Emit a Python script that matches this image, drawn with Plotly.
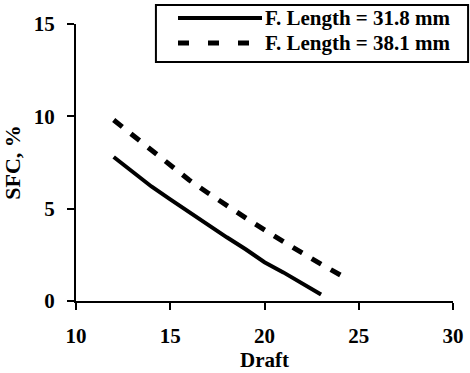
import plotly.graph_objects as go

# ---- data ----
series_names = ["F. Length = 31.8 mm", "F. Length = 38.1 mm"]
draft_318 = [12, 13, 14, 15, 16, 17, 18, 19, 20, 21, 22, 23]
sfc_318 = [7.8, 7.0, 6.2, 5.5, 4.8, 4.1, 3.45, 2.8, 2.1, 1.55, 0.95, 0.35]
draft_381 = [12, 13, 14, 15, 16, 17, 18, 19, 20, 21, 22, 23, 24.3]
sfc_381 = [9.8, 9.0, 8.15, 7.35, 6.55, 5.85, 5.15, 4.5, 3.85, 3.2, 2.6, 2.0, 1.25]
x_ticks = [10, 15, 20, 25, 30]
y_ticks = [0, 5, 10, 15]

FONT = "Liberation Serif"
FS = 21

fig = go.Figure()
fig.add_trace(go.Scatter(x=draft_318, y=sfc_318, mode="lines", name=series_names[0],
                         line=dict(color="black", width=4), showlegend=False))
fig.add_trace(go.Scatter(x=draft_381, y=sfc_381, mode="lines", name=series_names[1],
                         line=dict(color="black", width=5, dash="11px,11px"), showlegend=False))

# manual legend (box, line samples, labels)
lx0, lx1 = 0.212, 1.04
ly0, ly1 = 0.863, 1.069
fig.add_shape(type="rect", xref="paper", yref="paper", x0=lx0, x1=lx1, y0=ly0, y1=ly1,
              line=dict(color="black", width=2), fillcolor="white", layer="above")
row_y = [(301 - 18) / 277, (301 - 43) / 277]
sx0, sx1 = (178 - 76) / 377, (262 - 76) / 377
fig.add_shape(type="line", xref="paper", yref="paper", x0=sx0, x1=sx1, y0=row_y[0], y1=row_y[0],
              line=dict(color="black", width=4), layer="above")
fig.add_shape(type="line", xref="paper", yref="paper", x0=sx0, x1=sx1, y0=row_y[1], y1=row_y[1],
              line=dict(color="black", width=5, dash="11px,19px"), layer="above")
for name, yy in zip(series_names, row_y):
    fig.add_annotation(xref="paper", yref="paper", x=(263 - 76) / 377, y=yy, text="<b>" + name + "</b>",
                       showarrow=False, xanchor="left", yanchor="middle",
                       font=dict(family=FONT, size=FS, color="black"))

axis_common = dict(showline=True, linecolor="black", linewidth=2, ticks="outside",
                   ticklen=7, tickwidth=2, tickcolor="black", showgrid=False, zeroline=False,
                   automargin=False,
                   tickfont=dict(family=FONT, size=FS, color="black"))

fig.update_xaxes(range=[10, 30], tickvals=x_ticks, ticktext=["<b>%d</b>" % v for v in x_ticks],
                 ticklabelstandoff=8, **axis_common,
                 title=dict(text="<b>Draft</b>", standoff=5,
                            font=dict(family=FONT, size=FS, color="black")))
fig.update_yaxes(range=[0, 15], tickvals=y_ticks, ticktext=["<b>%d</b>" % v for v in y_ticks],
                 ticklabelstandoff=8, **axis_common,
                 title=dict(text="<b>SFC, %</b>", standoff=7,
                            font=dict(family=FONT, size=22, color="black")))

fig.update_layout(width=470, height=373, margin=dict(l=76, r=17, t=24, b=72),
                  plot_bgcolor="white", paper_bgcolor="white", showlegend=False)

fig.write_html("out.html")
